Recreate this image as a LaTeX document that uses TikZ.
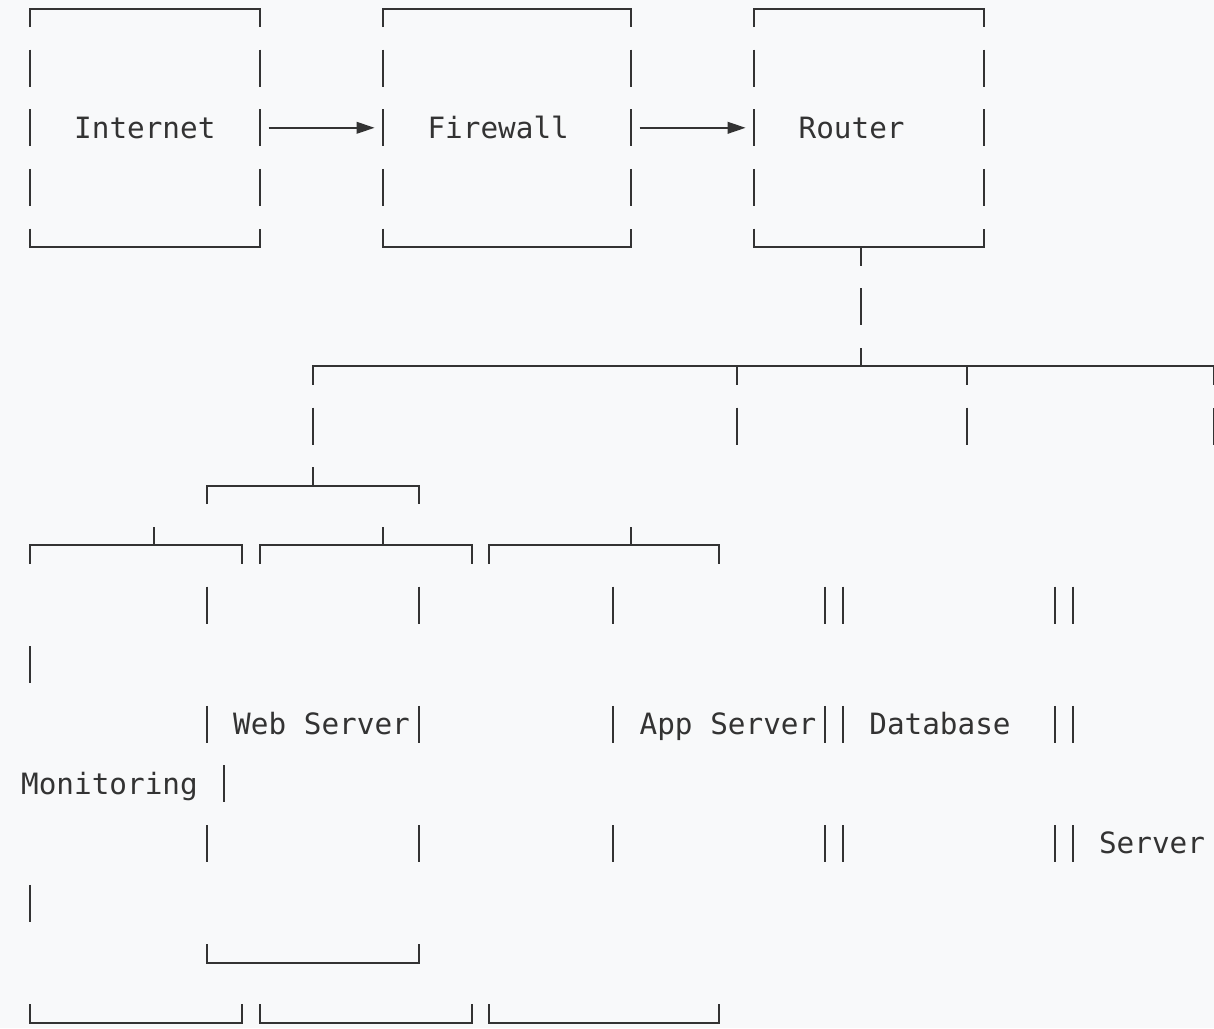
\documentclass[tikz,border=0pt]{standalone}
\usepackage{fontspec}
\setmonofont{DejaVu Sans Mono}
\usetikzlibrary{arrows.meta}
\definecolor{bgcol}{HTML}{F8F9FA}
\definecolor{ink}{HTML}{333333}
\tikzset{
  declare function={cx(\c)=30+17.67*\c; ry(\r)=8.5+59.65*\r;},
  glyph/.style={draw=ink,line width=1pt,line join=miter},
  lbl/.style={anchor=base west,inner sep=0pt,outer sep=0pt,text=ink,font=\ttfamily\fontsize{14.67}{17}\selectfont},
  arr/.style={draw=ink,line width=1pt,-{Triangle[length=9pt,width=5.8pt]}}
}
\newcommand\asciiV[2]{\draw[glyph] ({cx(#2)},{ry(#1)-18.5}) -- ({cx(#2)},{ry(#1)+18.5});}
\newcommand\asciiTop[3]{\draw[glyph] ({cx(#2)},{ry(#1)+18.5}) -- ({cx(#2)},{ry(#1)}) -- ({cx(#3)},{ry(#1)}) -- ({cx(#3)},{ry(#1)+18.5});}
\newcommand\asciiBot[3]{\draw[glyph] ({cx(#2)},{ry(#1)-18.5}) -- ({cx(#2)},{ry(#1)}) -- ({cx(#3)},{ry(#1)}) -- ({cx(#3)},{ry(#1)-18.5});}
\newcommand\asciiUp[2]{\draw[glyph] ({cx(#2)},{ry(#1)}) -- ({cx(#2)},{ry(#1)-18.5});}
\newcommand\asciiDn[2]{\draw[glyph] ({cx(#2)},{ry(#1)}) -- ({cx(#2)},{ry(#1)+18.5});}
\begin{document}
\begin{tikzpicture}[x=0.5pt,y=-0.5pt]
\fill[bgcol] (0,0) rectangle (1214,1028);
\useasboundingbox (0,0) rectangle (1214,1028);

% top boxes
\asciiTop{0}{0}{13}
\asciiTop{0}{20}{34}
\asciiTop{0}{41}{54}
\foreach \r in {1,2,3}{\foreach \c in {0,13,20,34,41,54}{\asciiV{\r}{\c}}}
\asciiBot{4}{0}{13}
\asciiBot{4}{20}{34}
\asciiBot{4}{41}{54}
\asciiDn{4}{47}

\node[lbl] (internet) at ({cx(3)-8.835},{ry(2)+10.3}) {Internet};
\node[lbl] (firewall) at ({cx(23)-8.835},{ry(2)+10.3}) {Firewall};
\node[lbl] (router) at ({cx(44)-8.835},{ry(2)+10.3}) {Router};

\coordinate (a1s) at ({cx(13.5)},{ry(2)});
\coordinate (a1e) at ({cx(19.5)},{ry(2)});
\coordinate (a2s) at ({cx(34.5)},{ry(2)});
\coordinate (a2e) at ({cx(40.5)},{ry(2)});
\draw[arr] (a1s) -- (a1e);
\draw[arr] (a2s) -- (a2e);

% router trunk
\asciiV{5}{47}
\asciiTop{6}{16}{67}
\asciiDn{6}{40}
\asciiDn{6}{53}
\asciiUp{6}{47}
\foreach \c in {16,40,53,67}{\asciiV{7}{\c}}

% sub tree
\asciiTop{8}{10}{22}
\asciiUp{8}{16}
\asciiTop{9}{0}{12}
\asciiUp{9}{7}
\asciiTop{9}{13}{25}
\asciiUp{9}{20}
\asciiTop{9}{26}{39}
\asciiUp{9}{34}

\foreach \c in {10,22,33,45,46,58,59}{\asciiV{10}{\c}\asciiV{12}{\c}\asciiV{14}{\c}}
\asciiV{11}{0}
\asciiV{13}{11}
\asciiV{15}{0}

\node[lbl] (web) at ({cx(12)-8.835},{ry(12)+10.3}) {Web Server};
\node[lbl] (app) at ({cx(35)-8.835},{ry(12)+10.3}) {App Server};
\node[lbl] (db) at ({cx(48)-8.835},{ry(12)+10.3}) {Database};
\node[lbl] (mon) at ({cx(0)-8.835},{ry(13)+10.3}) {Monitoring};
\node[lbl] (srv) at ({cx(61)-8.835},{ry(14)+10.3}) {Server};

\asciiBot{16}{10}{22}
\asciiBot{17}{0}{12}
\asciiBot{17}{13}{25}
\asciiBot{17}{26}{39}
\end{tikzpicture}
\end{document}
